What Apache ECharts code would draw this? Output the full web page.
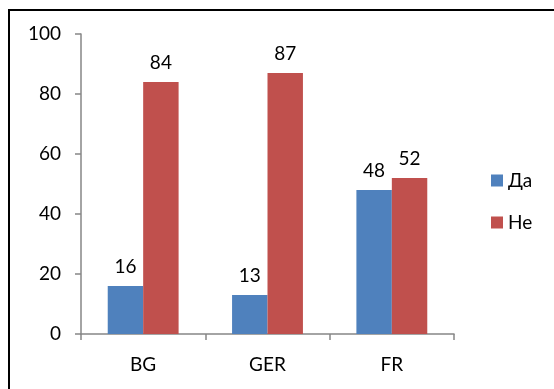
<!DOCTYPE html>
<html>
<head>
<meta charset="utf-8">
<script src="https://cdn.jsdelivr.net/npm/echarts@6/dist/echarts.min.js"></script>
<style>
  html, body { margin: 0; padding: 0; background: #fff; }
  #chart { width: 554px; height: 389px; }
</style>
</head>
<body>
<div id="chart"></div>
<script>
// Survey answers per country
const categories = ['BG', 'GER', 'FR'];
const yesValues = [16, 13, 48];   // Да
const noValues = [84, 87, 52];    // Не
const seriesNames = ['Да', 'Не'];

const FONT = 'Lato';
const FS = 19;
const chart = echarts.init(document.getElementById('chart'));

const labelStyle = {
  show: true,
  position: 'top',
  distance: 10,
  color: '#000',
  fontFamily: FONT,
  fontSize: FS
};

chart.setOption({
  animation: false,
  textStyle: { fontFamily: FONT },
  graphic: [{
    type: 'rect',
    shape: { x: 9, y: 10, width: 600, height: 500 },
    style: { fill: 'none', stroke: '#000', lineWidth: 2 },
    silent: true
  }],
  grid: { left: 81, top: 34, width: 373, height: 300, containLabel: false },
  legend: {
    orient: 'vertical',
    left: 491,
    top: 171,
    padding: 0,
    itemWidth: 12,
    itemHeight: 12,
    itemGap: 23,
    icon: 'rect',
    textStyle: { fontFamily: FONT, fontSize: FS, color: '#000' },
    data: seriesNames
  },
  xAxis: {
    type: 'category',
    data: categories,
    axisLine: { lineStyle: { color: '#868686', width: 1.5 } },
    axisTick: { show: true, length: 6, alignWithLabel: false, lineStyle: { color: '#868686', width: 1.5 } },
    axisLabel: { color: '#000', fontFamily: FONT, fontSize: FS, margin: 21 }
  },
  yAxis: {
    type: 'value',
    min: 0,
    max: 100,
    interval: 20,
    axisLine: { show: true, lineStyle: { color: '#868686', width: 1.5 } },
    axisTick: { show: true, length: 6, lineStyle: { color: '#868686', width: 1.5 } },
    splitLine: { show: false },
    axisLabel: { color: '#000', fontFamily: FONT, fontSize: FS, margin: 20 }
  },
  series: [
    {
      name: seriesNames[0],
      type: 'bar',
      data: yesValues,
      barGap: '0%',
      barCategoryGap: '43%',
      itemStyle: { color: '#4F81BD' },
      label: labelStyle
    },
    {
      name: seriesNames[1],
      type: 'bar',
      data: noValues,
      itemStyle: { color: '#C0504D' },
      label: labelStyle
    }
  ]
});
</script>
</body>
</html>
